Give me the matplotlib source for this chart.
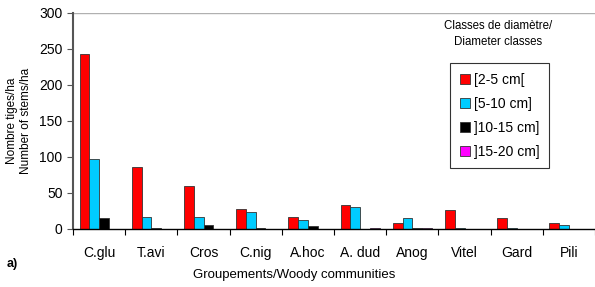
import numpy as np
import matplotlib.pyplot as plt

plt.rcParams['font.family'] = ['Liberation Sans', 'DejaVu Sans']

groups = ["C.glu", "T.avi", "Cros", "C.nig", "A.hoc", "A. dud", "Anog", "Vitel", "Gard", "Pili"]
classes = ["[2-5 cm[", "[5-10 cm]", "]10-15 cm]", "]15-20 cm]"]
d2_5 = [243, 86, 60, 28, 17, 33, 9, 26, 15, 9]
d5_10 = [97, 17, 17, 24, 13, 31, 15, 2, 2, 6]
d10_15 = [15, 2, 6, 2, 4, 0, 2, 0, 0, 0]
d15_20 = [0, 0, 0, 0, 0, 2, 2, 0, 0, 0]
colors = ["#ff0000", "#00ccff", "#000000", "#ff00ff"]

fig = plt.figure(figsize=(5.95, 2.87), dpi=100)
ax = fig.add_axes([73/595, 1 - 229/287, 1 - 73/595, 216/287])

x = np.arange(len(groups))
w = 0.1875
for k, vals in enumerate([d2_5, d5_10, d10_15, d15_20]):
    ax.bar(x + 0.125 + w * (k + 0.5), vals, w, color=colors[k],
           edgecolor="#333333", linewidth=0.6, label=classes[k])

ax.set_xlim(0, len(groups))
ax.set_ylim(0, 300)
ax.set_yticks(np.arange(0, 301, 50))
ax.set_xticks(np.arange(0, len(groups) + 1))
ax.set_xticklabels([])
ax.set_xticks(x + 0.5, minor=True)
ax.set_xticklabels(groups, minor=True)
ax.tick_params(axis='x', which='major', length=4, direction='out', width=0.8)
ax.tick_params(axis='x', which='minor', length=0, pad=12, labelsize=10)
ax.tick_params(axis='y', length=4, width=0.8, colors="#555555", labelcolor="black", labelsize=10)
ax.axhline(300, color="#b0b0b0", lw=1.0)

for s in ["top", "right"]:
    ax.spines[s].set_visible(False)
ax.spines["left"].set_color("#555555")
ax.spines["left"].set_linewidth(1.5)
ax.spines["bottom"].set_linewidth(1.0)

ax.set_ylabel("Nombre tiges/ha\nNumber of stems/ha", fontsize=8.5, labelpad=5)
ax.set_xlabel("Groupements/Woody communities", fontsize=9.5)
ax.xaxis.set_label_coords((294 - 73) / 522, -40 / 216)
fig.text(7/595, 1 - 264/287, "a)", fontsize=9, fontweight="bold", va="center")
fig.text(498/595, 1 - 34/287, "Classes de diamètre/\nDiameter classes",
         fontsize=8.3, ha="center", va="center", linespacing=1.35)

leg = ax.legend(loc="upper left", bbox_to_anchor=(450/595, 1 - 63/287),
                bbox_transform=fig.transFigure, fontsize=10, frameon=True,
                fancybox=False, edgecolor="black", handlelength=0.75,
                handleheight=0.75, handletextpad=0.25, labelspacing=0.72,
                borderpad=0.7, borderaxespad=0)
leg.get_frame().set_linewidth(0.8)

fig.savefig("out.png", dpi=100)
